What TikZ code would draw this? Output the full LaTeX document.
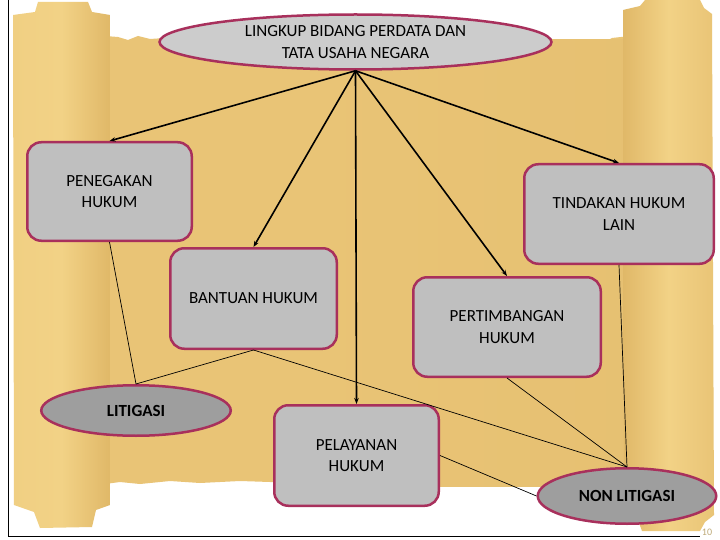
\documentclass[tikz,border=0pt]{standalone}
\usepackage{fontspec}
\setmainfont{Carlito}
\usetikzlibrary{shapes.geometric,arrows.meta}
\definecolor{bord}{RGB}{168,48,92}
\definecolor{boxgray}{RGB}{191,191,191}
\definecolor{topgray}{RGB}{204,204,204}
\definecolor{dkgray}{RGB}{158,158,158}
\definecolor{tan}{RGB}{233,196,118}
\definecolor{tanlight}{RGB}{242,210,134}
\definecolor{tandark}{RGB}{224,184,104}
\definecolor{pagenum}{RGB}{190,170,120}
\begin{document}
\begin{tikzpicture}[x=1pt,y=-1pt,
  boxnode/.style={rectangle, rounded corners=14pt, draw=bord, line width=2.5pt, fill=boxgray,
    align=center, inner sep=0pt, font=\fontsize{17}{21.5}\selectfont},
  ellnode/.style={ellipse, draw=bord, line width=2.5pt, align=center, inner sep=0pt},
  arr/.style={line width=1.6pt, -{Stealth[length=6pt,width=4.5pt]}},
  thin/.style={line width=0.7pt}]
\useasboundingbox (0,0) rectangle (720,540);
\fill[white] (0,0) rectangle (720,540);
% main sheet
\fill[tan] (105,36) -- (118,37) -- (128,40) -- (138,36) -- (150,39) -- (165,38) -- (300,40) -- (450,40)
  -- (553,42) -- (566,45) -- (585,42) -- (600,44) -- (612,38) -- (630,36)
  -- (630,492) -- (600,490) -- (570,487) -- (540,486) -- (500,484) -- (460,486) -- (440,484)
  -- (300,483) -- (270,482) -- (240,481) -- (200,483) -- (170,481) -- (140,484) -- (120,482) -- (105,484) -- cycle;
\shade[left color=tan, right color=tan!70!tandark] (300,40) rectangle (630,486);
% left roll
\shade[left color=tanlight!80!tan, right color=tandark, middle color=tanlight]
  (13,15) -- (35,12) -- (38,2) -- (88,2) -- (92,12) -- (110,15) -- (110,505) -- (96,510) -- (92,527)
  -- (40,528) -- (34,512) -- (14,505) -- cycle;
% right roll
\shade[left color=tandark, right color=tan, middle color=tanlight]
  (623,10) -- (640,6) -- (645,0) -- (700,0) -- (704,8) -- (712,14) -- (714,515) -- (705,522) -- (700,531)
  -- (642,531) -- (636,515) -- (624,508) -- cycle;
% frame
\draw[line width=0.8pt] (8,0) -- (8,536) -- (700,536);
\node[text=pagenum, font=\fontsize{10}{11}\selectfont] (pg) at (707,532) {10};
% nodes
\node[ellnode, fill=topgray, minimum width=392pt, minimum height=55pt, font=\fontsize{17}{22}\selectfont] (top) at (355.5,42) {LINGKUP BIDANG PERDATA DAN\\TATA USAHA NEGARA};
\node[boxnode, minimum width=164.5pt, minimum height=98.5pt] (pen) at (109.5,191.5) {PENEGAKAN\\HUKUM};
\node[boxnode, minimum width=189.5pt, minimum height=99.5pt] (tin) at (619,214) {TINDAKAN HUKUM\\LAIN};
\node[boxnode, minimum width=166.5pt, minimum height=100.5pt] (ban) at (253.5,298.5) {BANTUAN HUKUM};
\node[boxnode, minimum width=187.5pt, minimum height=99.5pt] (per) at (507,327) {PERTIMBANGAN\\HUKUM};
\node[boxnode, minimum width=164.5pt, minimum height=100.5pt] (pel) at (356.5,455.5) {PELAYANAN\\HUKUM};
\node[ellnode, fill=dkgray, minimum width=189.5pt, minimum height=50.5pt, font=\fontsize{17}{18}\selectfont\bfseries] (lit) at (136,410.5) {LITIGASI};
\node[ellnode, fill=dkgray, minimum width=178.5pt, minimum height=55.5pt, font=\fontsize{17}{18}\selectfont\bfseries] (non) at (627,496) {NON LITIGASI};
% arrows
\draw[arr] (top.south) -- (pen.north);
\draw[arr] (top.south) -- (ban.north);
\draw[arr] (top.south) -- (pel.north);
\draw[arr] (top.south) -- (per.north);
\draw[arr] (top.south) -- (tin.north);
% thin connectors
\draw[thin] (pen.south) -- (lit.north);
\draw[thin] (ban.south) -- (lit.north);
\draw[thin] (ban.south) -- (non.north);
\draw[thin] (per.south) -- (non.north);
\draw[thin] (tin.south) -- (non.north);
\draw[thin] (pel.east) -- (non.west);
\end{tikzpicture}
\end{document}
